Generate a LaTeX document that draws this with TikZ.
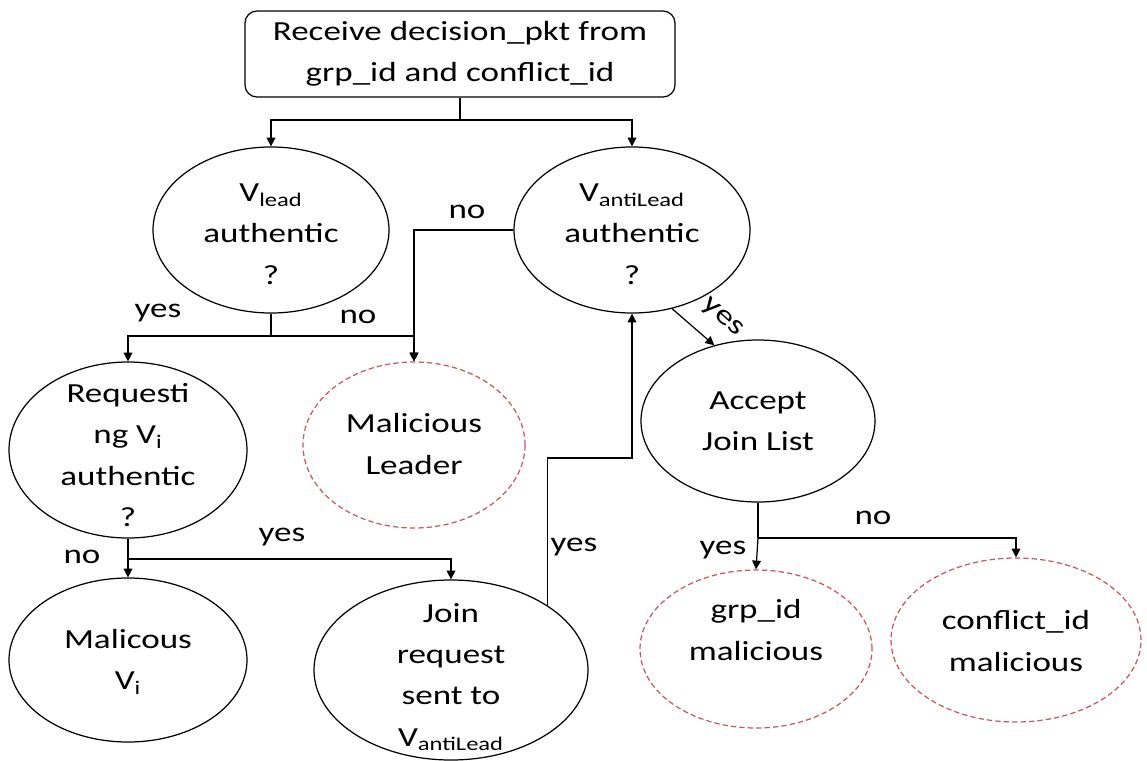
\documentclass[tikz,border=0pt]{standalone}
\usepackage{fontspec}
\setmainfont{Carlito}[FakeStretch=1.27]
\usetikzlibrary{shapes.geometric,arrows.meta}
\newcommand\diagfont{\fontsize{15.7}{23.5}\selectfont}
\definecolor{malred}{HTML}{C9575A}
\begin{document}
\begin{tikzpicture}[x=0.02cm,y=-0.02cm,
  line width=0.7pt,
  every node/.style={font=\diagfont},
  ovsize/.style 2 args={minimum width=#1*0.02cm, minimum height=#2*0.02cm},
  oval/.style={ellipse, draw, inner sep=0pt},
  badoval/.style={ellipse, draw=malred, dash pattern=on 3pt off 1.8pt, inner sep=0pt},
  txt/.style={align=center, inner sep=0pt},
  lbl/.style={inner sep=0pt},
  arr/.style={-{Triangle[length=5pt,width=5pt]}},
]
\useasboundingbox (0,0) rectangle (1147,761);

% start box
\node[draw, rounded corners=0.24cm, ovsize={430}{86}, align=center, inner sep=0pt] (start) at (460,54)
  {Receive decision\_pkt from\\grp\_id and conflict\_id};

% decision and outcome ovals
\node[oval, ovsize={236}{166}] (lead) at (271,230) {};
\node[txt] (leadT) at (271,234) {V\textsubscript{lead}\\authentic\\?};

\node[oval, ovsize={236}{166}] (anti) at (632,230) {};
\node[txt] (antiT) at (632,234) {V\textsubscript{antiLead}\\authentic\\?};

\node[oval, ovsize={238}{176}] (req) at (128,450) {};
\node[txt] (reqT) at (128,455) {Requesti\\ng V\textsubscript{i}\\authentic\\?};

\node[badoval, ovsize={222}{166}] (mlead) at (414,445) {};
\node[txt] (mleadT) at (414,444) {Malicious\\Leader};

\node[oval, ovsize={238}{164}] (mvi) at (128,660) {};
\node[txt] (mviT) at (128,662) {Malicous\\V\textsubscript{i}};

\node[oval, ovsize={274}{180}] (join) at (451,670) {};
\node[txt] (joinT) at (451,677) {Join\\request\\sent to\\V\textsubscript{antiLead}};

\node[oval, ovsize={234}{162}] (acc) at (758,421) {};
\node[txt] (accT) at (758,421) {Accept\\Join List};

\node[badoval, ovsize={232}{158}] (grp) at (756,649) {};
\node[txt] (grpT) at (756,630) {grp\_id\\malicious};

\node[badoval, ovsize={250}{164}] (conf) at (1016,640) {};
\node[txt] (confT) at (1016,641) {conflict\_id\\malicious};

% branch points
\coordinate (j0) at (460,120);
\coordinate (j1) at (271,336);
\coordinate (j2) at (128,559);
\coordinate (j3) at (632,458);
\coordinate (j4) at (758,538);

% connectors
\draw (start.south) -- (j0);
\draw[arr] (j0) -| (lead.north);
\draw[arr] (j0) -| (anti.north);

\draw (lead.south) -- (j1);
\draw[arr] (j1) -| (req.north);
\draw[arr] (j1) -| (mlead.north);
\draw[arr] (anti.west) -| (mlead.north);

\draw[arr] (req.south) -- (mvi.north);
\draw[arr] (j2) -| (join.north);

\draw[arr] (join.34) |- (j3) -- (anti.south);
\draw[arr] (anti.-63) -- (acc.120);

\draw (acc.south) -- (j4);
\draw[arr] (j4) -- (grp.north);
\draw[arr] (j4) -| (conf.north);

% branch labels
\node[lbl] (l1) at (467,212) {no};
\node[lbl] (l2) at (158,313) {yes};
\node[lbl] (l3) at (358,317) {no};
\node[lbl] (l4) at (82,557) {no};
\node[lbl] (l5) at (282,537) {yes};
\node[lbl] (l6) at (574,547) {yes};
\node[lbl, rotate=-42] (l7) at (722,318) {yes};
\node[lbl] (l8) at (873,518) {no};
\node[lbl] (l9) at (723,550) {yes};
\end{tikzpicture}
\end{document}
